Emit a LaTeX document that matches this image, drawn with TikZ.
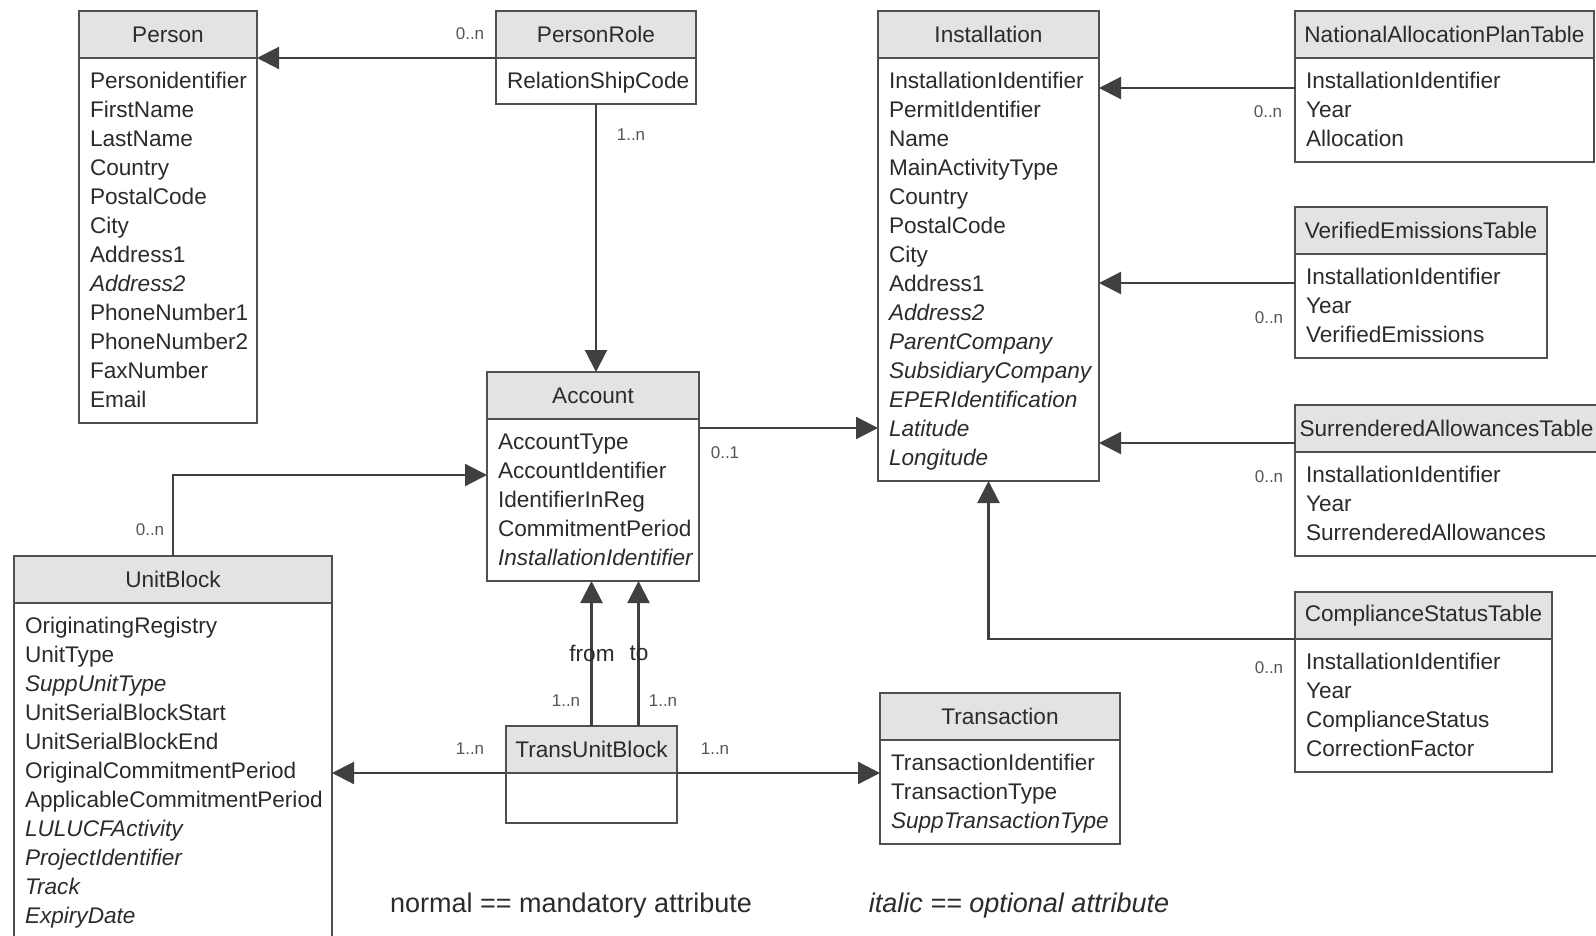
\documentclass[tikz,border=0pt]{standalone}
\usepackage{fontspec}
\setmainfont{Liberation Sans}
\usepackage{tikz}
\usetikzlibrary{arrows.meta,positioning,calc}
\definecolor{InkGray}{HTML}{2B2B2B}
\definecolor{BoxGray}{HTML}{505050}
\definecolor{HeadFill}{HTML}{E3E3E3}
\definecolor{LineGray}{HTML}{404040}
\definecolor{LabelGray}{HTML}{555555}
\newcommand{\attfont}{\fontsize{22.6pt}{29pt}\selectfont}
\newcommand{\multfont}{\fontsize{17pt}{20pt}\selectfont}
\newcommand{\legfont}{\fontsize{27pt}{32pt}\selectfont}

\begin{document}
\begin{tikzpicture}[x=1pt, y=-1pt, every node/.style={text=InkGray},
    hdr/.style={draw=BoxGray, fill=HeadFill, line width=1.8pt, anchor=north west, minimum height=47pt, inner sep=0pt, outer sep=0pt, font=\attfont},
    attrs/.style={draw=BoxGray, line width=1.8pt, anchor=north west, align=left, inner xsep=11pt, inner ysep=8.5pt, outer sep=0pt, font=\attfont, execute at begin node={\rule{0pt}{22.3pt}}, execute at end node={\rule[-6.7pt]{0pt}{6.7pt}}},
    arr/.style={-{Triangle[length=22pt,width=22pt]}, line width=2.2pt, LineGray},
    mult/.style={font=\multfont, text=LabelGray},
    legend/.style={font=\legfont}]
	\useasboundingbox (0,0) rectangle (1596,936);
	\fill[white] (0,0) rectangle (1596,936);
	\clip (0,0) rectangle (1596,936);
	% classes
	\node[hdr, minimum width=178pt] (person) at (79,11) {Person};
	\node[attrs, text width=156pt] (person-b) at (person.south west) {Personidentifier\\FirstName\\LastName\\Country\\PostalCode\\City\\Address1\\\textit{Address2}\\PhoneNumber1\\PhoneNumber2\\FaxNumber\\Email};
	\node[hdr, minimum width=200pt] (role) at (496,11) {PersonRole};
	\node[attrs, text width=178pt] (role-b) at (role.south west) {RelationShipCode};
	\node[hdr, minimum width=221pt] (inst) at (878,11) {Installation};
	\node[attrs, text width=199pt] (inst-b) at (inst.south west) {InstallationIdentifier\\PermitIdentifier\\Name\\MainActivityType\\Country\\PostalCode\\City\\Address1\\\textit{Address2}\\\textit{ParentCompany}\\\textit{SubsidiaryCompany}\\\textit{EPERIdentification}\\\textit{Latitude}\\\textit{Longitude}};
	\node[hdr, minimum width=299pt] (napt) at (1295,11) {NationalAllocationPlanTable};
	\node[attrs, text width=277pt] (napt-b) at (napt.south west) {InstallationIdentifier\\Year\\Allocation};
	\node[hdr, minimum width=252pt] (vet) at (1295,207) {VerifiedEmissionsTable};
	\node[attrs, text width=230pt] (vet-b) at (vet.south west) {InstallationIdentifier\\Year\\VerifiedEmissions};
	\node[hdr, minimum width=303pt] (sat) at (1295,405) {SurrenderedAllowancesTable};
	\node[attrs, text width=281pt] (sat-b) at (sat.south west) {InstallationIdentifier\\Year\\SurrenderedAllowances};
	\node[hdr, minimum width=257pt] (cst) at (1295,592) {ComplianceStatusTable};
	\node[attrs, text width=235pt] (cst-b) at (cst.south west) {InstallationIdentifier\\Year\\ComplianceStatus\\CorrectionFactor};
	\node[hdr, minimum width=212pt] (acct) at (487,372) {Account};
	\node[attrs, text width=190pt] (acct-b) at (acct.south west) {AccountType\\AccountIdentifier\\IdentifierInReg\\CommitmentPeriod\\\textit{InstallationIdentifier}};
	\node[hdr, minimum width=318pt] (ub) at (14,556) {UnitBlock};
	\node[attrs, text width=296pt] (ub-b) at (ub.south west) {OriginatingRegistry\\UnitType\\\textit{SuppUnitType}\\UnitSerialBlockStart\\UnitSerialBlockEnd\\OriginalCommitmentPeriod\\ApplicableCommitmentPeriod\\\textit{LULUCFActivity}\\\textit{ProjectIdentifier}\\\textit{Track}\\\textit{ExpiryDate}};
	\node[hdr, minimum width=171pt] (tub) at (506,726) {TransUnitBlock};
	\node[attrs, text width=149pt, minimum height=50pt] (tub-b) at (tub.south west) {};
	\node[hdr, minimum width=240pt] (trans) at (880,693) {Transaction};
	\node[attrs, text width=218pt] (trans-b) at (trans.south west) {TransactionIdentifier\\TransactionType\\\textit{SuppTransactionType}};
	% associations
	\coordinate (acct-out) at ([yshift=-9pt]acct-b.north east);
	\coordinate (acct-in) at ([yshift=-56pt]acct-b.north west);
	\coordinate (to-foot) at ([xshift=47pt]tub.north);
	\coordinate (napt-in) at ([yshift=-30pt]napt-b.north west);
	\coordinate (vet-in) at ([yshift=-29pt]vet-b.north west);
	\coordinate (sat-in) at ([yshift=9pt]sat.south west);
	\draw[arr] (role.south west) -- (person.south east);
	\draw[arr] (role-b.south) -- (role-b.south |- acct.north);
	\draw[arr] (acct-out) -- (acct-out -| inst-b.west);
	\draw[arr] (ub.north) |- (acct-in);
	\draw[arr] (tub.north) -- (tub.north |- acct-b.south);
	\draw[arr] (to-foot) -- (to-foot |- acct-b.south);
	\draw[arr] (tub.south west) -- (tub.south west -| ub-b.east);
	\draw[arr] (tub.south east) -- (tub.south east -| trans-b.west);
	\draw[arr] (napt-in) -- (napt-in -| inst-b.east);
	\draw[arr] (vet-in) -- (vet-in -| inst-b.east);
	\draw[arr] (sat-in) -- (sat-in -| inst-b.east);
	\draw[arr] (cst.south west) -| (inst-b.south);
	% multiplicities
	\node[mult] (m-role-person) at (470,34) {0..n};
	\node[mult] (m-role-acct) at (631,135) {1..n};
	\node[mult] (m-acct-inst) at (725,453) {0..1};
	\node[mult] (m-ub-acct) at (150,530) {0..n};
	\node[font=\attfont] (lbl-from) at (592,653) {from};
	\node[font=\attfont] (lbl-to) at (639,653) {to};
	\node[mult] (m-from) at (566,701) {1..n};
	\node[mult] (m-to) at (663,701) {1..n};
	\node[mult] (m-tub-ub) at (470,749) {1..n};
	\node[mult] (m-tub-trans) at (715,749) {1..n};
	\node[mult] (m-napt) at (1268,112) {0..n};
	\node[mult] (m-vet) at (1269,318) {0..n};
	\node[mult] (m-sat) at (1269,477) {0..n};
	\node[mult] (m-cst) at (1269,668) {0..n};
	% legend
	\node[legend] (leg-normal) at (571,906) {normal == mandatory attribute};
	\node[legend] (leg-italic) at (1019,906) {\itshape italic == optional attribute};
\end{tikzpicture}
\end{document}
